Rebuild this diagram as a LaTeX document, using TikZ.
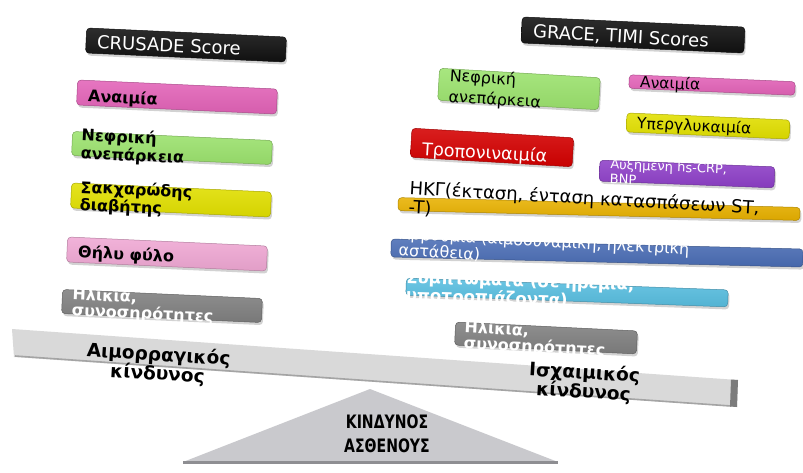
\documentclass[tikz,border=0pt]{standalone}
\usepackage{fontspec}
\setmainfont{DejaVu Sans}
\usepackage{graphicx}
\usetikzlibrary{shadows}

\definecolor{cBlack}{HTML}{111111}
\definecolor{cPink}{HTML}{E363B8}
\definecolor{cGreen}{HTML}{9CE36E}
\definecolor{cYellow}{HTML}{E2E000}
\definecolor{cRose}{HTML}{F0A8D4}
\definecolor{cGray}{HTML}{808080}
\definecolor{cRed}{HTML}{D40000}
\definecolor{cPurple}{HTML}{8E3FC8}
\definecolor{cGold}{HTML}{E8B100}
\definecolor{cBlue}{HTML}{4A6DB5}
\definecolor{cSky}{HTML}{58BEE0}
\definecolor{cBeam}{HTML}{D9D9D9}
\definecolor{cBeamEdge}{HTML}{A4A4A4}
\definecolor{cBeamEnd}{HTML}{7C7C7C}
\definecolor{cBase}{HTML}{C9C9CD}
\definecolor{cBaseEdge}{HTML}{8E8E92}

\tikzset{
  riskbox/.style={rounded corners=3.5pt, top color=#1!88!white, bottom color=#1!94!black,
    draw=#1!75!black, line width=0.5pt, inner sep=0pt,
    drop shadow={shadow xshift=1.4pt, shadow yshift=-2.6pt, opacity=0.35}},
  lbl/.style={anchor=west, inner sep=0pt, align=left},
  boldlbl/.style={lbl, font=\fontsize{16}{17.5}\selectfont\bfseries},
  plainlbl/.style={lbl, font=\fontsize{16}{20}\selectfont},
  beamlbl/.style={inner sep=0pt, align=center, font=\fontsize{18.5}{19}\selectfont\bfseries},
}

\begin{document}
\begin{tikzpicture}[x=1pt,y=-1pt]
\fill[white] (0,0) rectangle (803,472);
\useasboundingbox (0,0) rectangle (803,472);

% fulcrum
\fill[cBase] (370,389) -- (558,462) -- (183,462) -- cycle;
\fill[cBaseEdge] (183,461) rectangle (558,464);
\node[beamlbl, font=\fontsize{18.5}{24}\selectfont\bfseries] (fulcrum) at (387,433.5)
  {\scalebox{0.76}[1]{ΚΙΝΔΥΝΟΣ}\\\scalebox{0.76}[1]{ΑΣΘΕΝΟΥΣ}};

% tilted beam
\fill[cBeam] (12,329) -- (738,380) -- (737,407) -- (14,357) -- cycle;
\draw[cBeamEdge, line width=1.6pt] (15,356) -- (731,406);
\fill[cBeamEnd] (731,379.5) -- (738,380) -- (737,407) -- (730,406.5) -- cycle;
\node[beamlbl, rotate=-3.5] (bleed) at (158,365) {Αιμορραγικός\\κίνδυνος};
\node[beamlbl, rotate=-3.5] (isch) at (584,383) {Ισχαιμικός\\κίνδυνος};

% left pan: bleeding risk factors
\node[riskbox=cBlack, minimum width=200pt, minimum height=25pt, rotate=-2.6] (b1) at (186,45) {};
\node[riskbox=cPink, minimum width=200pt, minimum height=25pt, rotate=-2.6] (b2) at (177,97) {};
\node[riskbox=cGreen, minimum width=200pt, minimum height=24pt, rotate=-2.6] (b3) at (172,148) {};
\node[riskbox=cYellow, minimum width=200pt, minimum height=25pt, rotate=-2.6] (b4) at (171,200) {};
\node[riskbox=cRose, minimum width=200pt, minimum height=25pt, rotate=-2.6] (b5) at (167,254) {};
\node[riskbox=cGray, minimum width=200pt, minimum height=24pt, rotate=-2.6] (b6) at (162,306) {};

\node[lbl, rotate=-2.6, text=white, font=\fontsize{18}{20}\selectfont] (t1) at (97,42) {CRUSADE Score};
\node[boldlbl, rotate=-2.6] (t2) at (88,97) {Αναιμία};
\node[boldlbl, rotate=-2.6, font=\fontsize{16}{18}\selectfont\bfseries] (t3) at (81,145) {Νεφρική\\ανεπάρκεια};
\node[boldlbl, rotate=-2.6] (t4) at (80,197) {Σακχαρώδης\\διαβήτης};
\node[boldlbl, rotate=-2.6] (t5) at (78,253) {Θήλυ φύλο};
\node[boldlbl, rotate=-2.6, text=white, font=\fontsize{16}{16}\selectfont\bfseries] (t6) at (72,303) {Ηλικία,\\συνοσηρότητες};

% right pan: ischaemic risk factors
\node[riskbox=cBlack, minimum width=223pt, minimum height=26pt, rotate=-2.6] (b7) at (633,35) {};
\node[riskbox=cGreen, minimum width=161pt, minimum height=32pt, rotate=-3.4] (b8) at (519,89) {};
\node[riskbox=cPink, minimum width=166pt, minimum height=13.5pt, rotate=-2.4] (b9) at (712,85) {};
\node[riskbox=cYellow, minimum width=163pt, minimum height=19pt, rotate=-2.5] (b10) at (708,126) {};
\node[riskbox=cRed, minimum width=162pt, minimum height=29pt, rotate=-3.4] (b11) at (492,147.5) {};
\node[riskbox=cPurple, minimum width=175pt, minimum height=21pt, rotate=-2.2] (b12) at (687,174) {};
\node[riskbox=cGold, minimum width=402pt, minimum height=13pt, rotate=-1.4] (b13) at (599,209) {};
\node[riskbox=cBlue, minimum width=412pt, minimum height=18pt, rotate=-1.4] (b14) at (597,253) {};
\node[riskbox=cSky, minimum width=322pt, minimum height=17pt, rotate=-2.1] (b15) at (567,292.5) {};
\node[riskbox=cGray, minimum width=182pt, minimum height=23pt, rotate=-2.8] (b16) at (546,338) {};

\node[lbl, rotate=-3.2, text=white, font=\fontsize{18}{20}\selectfont] (t7) at (533,32) {GRACE, TIMI Scores};
\node[plainlbl, rotate=-3.4, font=\fontsize{16}{21}\selectfont] (t8) at (449,87) {Νεφρική\\ανεπάρκεια};
\node[plainlbl, rotate=-2.6, font=\fontsize{15.5}{18}\selectfont] (t9) at (640,83) {Αναιμία};
\node[plainlbl, rotate=-2.8, font=\fontsize{15.5}{18}\selectfont] (t10) at (637,124) {Υπεργλυκαιμία};
\node[plainlbl, rotate=-3.4, text=white, font=\fontsize{17.5}{20}\selectfont] (t11) at (422,150) {Τροπονιναιμία};
\node[plainlbl, rotate=-2.4, text=white, font=\fontsize{13}{14.5}\selectfont] (t12) at (610,171) {Αυξημένη hs-CRP,\\BNP};
\node[plainlbl, rotate=-3.2, font=\fontsize{18}{19}\selectfont] (t13) at (409,198) {ΗΚΓ(έκταση, ένταση κατασπάσεων ST,\\-T)};
\node[plainlbl, rotate=-3.1, text=white, font=\fontsize{16}{16.5}\selectfont] (t14) at (399,242) {Αρρυθμία (αιμοδυναμική, ηλεκτρική\\αστάθεια)};
\node[boldlbl, rotate=-1.8, text=white, font=\fontsize{16.5}{13}\selectfont\bfseries] (t15) at (406,287) {Συμπτώματα (σε ηρεμία,\\υποτροπιάζοντα)};
\node[boldlbl, rotate=-2.8, text=white, font=\fontsize{16}{15}\selectfont\bfseries] (t16) at (464,336) {Ηλικία,\\συνοσηρότητες};
\end{tikzpicture}
\end{document}
